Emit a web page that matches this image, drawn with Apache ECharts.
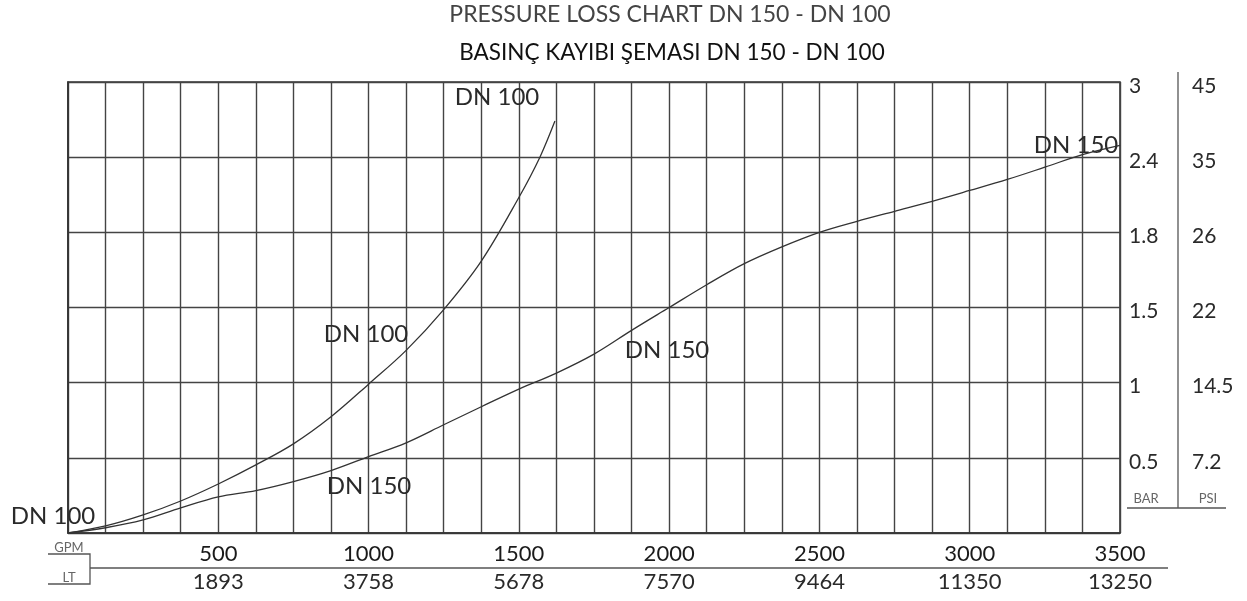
<!DOCTYPE html>
<html>
<head>
<meta charset="utf-8">
<script src="https://cdn.jsdelivr.net/npm/echarts@6/dist/echarts.min.js"></script>
<style>
html,body{margin:0;padding:0;background:#fff;}
#c{width:1247px;height:601px;}
</style>
</head>
<body>
<div id="c"></div>
<script>
// ---- data ----
const TITLE_EN = 'PRESSURE LOSS CHART DN 150 - DN 100';
const TITLE_TR = 'BASINÇ KAYIBI ŞEMASI DN 150 - DN 100';

const GPM_TICKS = [500, 1000, 1500, 2000, 2500, 3000, 3500];
const GPM_LABELS = ['500', '1000', '1500', '2000', '2500', '3000', '3500'];
const LT_LABELS = ['1893', '3758', '5678', '7570', '9464', '11350', '13250'];

const BAR_TICKS = [0, 0.5, 1, 1.5, 1.8, 2.4, 3];
const BAR_LABELS = ['', '0.5', '1', '1.5', '1.8', '2.4', '3'];
const PSI_LABELS = ['', '7.2', '14.5', '22', '26', '35', '45'];

const DN100_GPM = [0, 125, 250, 375, 500, 625, 750, 875, 1000, 1125, 1250, 1375, 1500, 1570, 1620];
const DN100_BAR = [0, 0.047, 0.12, 0.213, 0.326, 0.453, 0.593, 0.773, 0.99, 1.215, 1.486, 1.685, 2.078, 2.4, 2.688];

const DN150_GPM = [0, 125, 250, 375, 500, 625, 750, 875, 1000, 1125, 1250, 1375, 1500, 1625, 1750, 1875, 2000,
                   2125, 2250, 2375, 2500, 2625, 2750, 2875, 3000, 3125, 3250, 3375, 3500];
const DN150_BAR = [0, 0.035, 0.087, 0.167, 0.24, 0.282, 0.342, 0.415, 0.508, 0.60, 0.72, 0.84, 0.957, 1.064, 1.19, 1.348, 1.50,
                   1.591, 1.675, 1.742, 1.80, 1.888, 1.968, 2.048, 2.134, 2.222, 2.32, 2.42, 2.494];

// the pressure axis is drawn with equally spaced, non-linear ticks (BAR_TICKS):
// map a bar value to its position on that scale (piecewise between ticks)
function barToLevel(v) {
  for (let i = 1; i < BAR_TICKS.length; i++) {
    if (v <= BAR_TICKS[i]) {
      const a = BAR_TICKS[i - 1], b = BAR_TICKS[i];
      return (i - 1) + (v - a) / (b - a);
    }
  }
  return BAR_TICKS.length - 1;
}
function toSeries(xs, ys) { return xs.map((x, i) => [x, barToLevel(ys[i])]); }

const FONT = 'Lato';
const TXT = '#2a2a2a';
const LINE = '#444';

const chart = echarts.init(document.getElementById('c'));

const xBase = {
  type: 'value', min: 0, max: 3500, interval: 125, position: 'bottom',
  axisTick: { show: false },
};

const curveLabel = (text, x, y) => ({
  type: 'text', x: x, y: y, z: 10,
  style: { text: text, fontFamily: FONT, fontSize: 24, fill: TXT, align: 'center', verticalAlign: 'middle' }
});

chart.setOption({
  animation: false,
  backgroundColor: '#fff',
  grid: { left: 68, right: 127, top: 82, bottom: 68, show: true, borderColor: '#333', borderWidth: 1.6 },
  xAxis: [
    Object.assign({}, xBase, {
      axisLine: { show: true, lineStyle: { color: '#333', width: 1.6 } },
      splitLine: { show: true, lineStyle: { color: LINE, width: 1.4 } },
      axisLabel: {
        show: true, margin: 10, fontFamily: FONT, fontSize: 22, color: '#1a1a1a',
        formatter: v => { const i = GPM_TICKS.indexOf(v); return i >= 0 ? GPM_LABELS[i] : ''; }
      }
    }),
    Object.assign({}, xBase, {
      axisLine: { show: false },
      splitLine: { show: false },
      axisLabel: {
        show: true, margin: 38, fontFamily: FONT, fontSize: 22, color: TXT,
        formatter: v => { const i = GPM_TICKS.indexOf(v); return i >= 0 ? LT_LABELS[i] : ''; }
      }
    })
  ],
  yAxis: [
    {
      type: 'value', min: 0, max: 6, interval: 1, position: 'right',
      axisLine: { show: true, lineStyle: { color: '#333', width: 1.6 } },
      axisTick: { show: false },
      splitLine: { show: true, lineStyle: { color: LINE, width: 1.4 } },
      axisLabel: {
        margin: 9, fontFamily: FONT, fontSize: 21, color: TXT, verticalAlign: 'top', lineHeight: 8,
        formatter: v => BAR_LABELS[v] || ''
      }
    },
    {
      type: 'value', min: 0, max: 6, interval: 1, position: 'right',
      axisLine: { show: false }, axisTick: { show: false }, splitLine: { show: false },
      axisLabel: {
        margin: 72, fontFamily: FONT, fontSize: 21, color: TXT, verticalAlign: 'top', lineHeight: 8,
        formatter: v => PSI_LABELS[v] || ''
      }
    }
  ],
  series: [
    {
      name: 'DN 100', type: 'line', data: toSeries(DN100_GPM, DN100_BAR),
      smooth: 0.35, showSymbol: false, lineStyle: { color: '#333', width: 1.3 }
    },
    {
      name: 'DN 150', type: 'line', data: toSeries(DN150_GPM, DN150_BAR),
      smooth: 0.35, showSymbol: false, lineStyle: { color: '#333', width: 1.3 }
    }
  ],
  graphic: [
    { type: 'text', x: 670, y: 15, style: { text: TITLE_EN, fontFamily: FONT, fontSize: 23, fill: '#444', align: 'center', verticalAlign: 'middle' } },
    { type: 'text', x: 672, y: 53, style: { text: TITLE_TR, fontFamily: FONT, fontSize: 22.5, fill: '#111', align: 'center', verticalAlign: 'middle' } },

    curveLabel('DN 100', 497, 97),
    curveLabel('DN 100', 366, 334),
    curveLabel('DN 100', 53, 516),
    curveLabel('DN 150', 369, 486),
    curveLabel('DN 150', 667, 350),
    curveLabel('DN 150', 1076, 145),

    // unit captions and their rules
    { type: 'text', x: 69, y: 548, style: { text: 'GPM', fontFamily: FONT, fontSize: 13, fill: '#666', align: 'center', verticalAlign: 'middle' } },
    { type: 'text', x: 69, y: 578, style: { text: 'LT', fontFamily: FONT, fontSize: 13, fill: '#666', align: 'center', verticalAlign: 'middle' } },
    { type: 'polyline', shape: { points: [[48, 554], [90, 554], [90, 584], [48, 584]] }, style: { stroke: '#555', lineWidth: 1.3, fill: null } },
    { type: 'line', shape: { x1: 90, y1: 568, x2: 1168, y2: 568 }, style: { stroke: '#555', lineWidth: 1.3 } },

    { type: 'text', x: 1146, y: 499, style: { text: 'BAR', fontFamily: FONT, fontSize: 13, fill: '#666', align: 'center', verticalAlign: 'middle' } },
    { type: 'text', x: 1208, y: 499, style: { text: 'PSI', fontFamily: FONT, fontSize: 13, fill: '#666', align: 'center', verticalAlign: 'middle' } },
    { type: 'line', shape: { x1: 1127, y1: 508, x2: 1226, y2: 508 }, style: { stroke: '#555', lineWidth: 1.3 } },
    { type: 'line', shape: { x1: 1178, y1: 72, x2: 1178, y2: 508 }, style: { stroke: '#555', lineWidth: 1.3 } }
  ]
});
</script>
</body>
</html>
